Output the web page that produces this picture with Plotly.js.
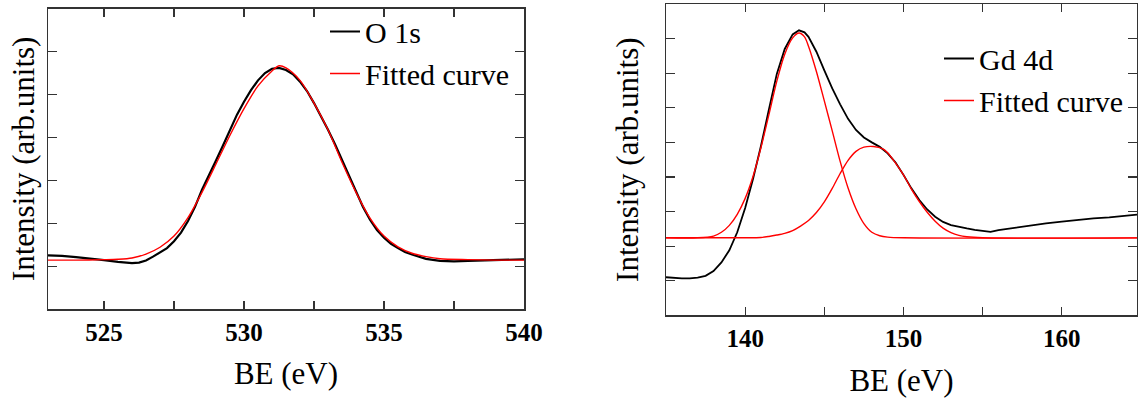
<!DOCTYPE html>
<html>
<head>
<meta charset="utf-8">
<script src="https://cdn.plot.ly/plotly-3.0.1.min.js"></script>
<style>html,body{margin:0;padding:0;background:#fff;}#chart{width:1138px;height:402px;}</style>
</head>
<body>
<div id="chart"></div>
<script>
// ---- O 1s panel ----
const o1sBE = [523.0,523.5,524.0,524.5,525.0,525.5,526.0,526.25,526.5,526.75,527.0,527.25,527.5,527.75,528.0,528.25,528.5,528.75,529.0,529.25,529.5,529.75,530.0,530.25,530.5,530.75,531.0,531.25,531.5,531.75,532.0,532.25,532.5,532.75,533.0,533.25,533.5,533.75,534.0,534.25,534.5,534.75,535.0,535.25,535.5,535.75,536.0,536.5,537.0,537.5,538.0,538.5,539.0,539.5,540.0];
const o1sIntensity = [1.25,1.24,1.21,1.18,1.14,1.10,1.07,1.08,1.13,1.22,1.32,1.42,1.58,1.78,2.05,2.38,2.78,3.14,3.46,3.81,4.18,4.53,4.83,5.10,5.33,5.50,5.60,5.62,5.57,5.47,5.30,5.08,4.80,4.50,4.18,3.84,3.47,3.10,2.72,2.38,2.08,1.84,1.66,1.52,1.42,1.33,1.27,1.17,1.12,1.11,1.12,1.13,1.15,1.16,1.16];
const o1sFitBE = [523.0,524.0,525.0,525.5,526.0,526.5,527.0,527.5,528.0,528.5,529.0,529.5,530.0,530.5,531.0,531.25,531.5,532.0,532.5,533.0,533.5,534.0,534.5,535.0,535.5,536.0,536.5,537.0,538.0,539.0,540.0];
const o1sFit = [1.14,1.14,1.15,1.16,1.19,1.28,1.44,1.70,2.13,2.72,3.38,4.05,4.67,5.20,5.55,5.67,5.62,5.33,4.80,4.18,3.42,2.72,2.12,1.70,1.45,1.30,1.22,1.17,1.15,1.14,1.14];

// ---- Gd 4d panel ----
const gdBE = [135.0,135.5,136.0,136.5,137.0,137.5,138.0,138.5,139.0,139.5,140.0,140.5,141.0,141.5,142.0,142.5,143.0,143.4,143.75,144.0,144.5,145.0,145.5,146.0,146.5,147.0,147.5,148.0,148.5,149.0,149.5,150.0,150.5,151.0,151.5,152.0,152.5,153.0,153.5,154.0,154.5,155.0,155.5,156.0,157.0,158.0,159.0,160.0,161.0,162.0,163.0,164.0,164.75];
const gdIntensity = [1.10,1.08,1.07,1.07,1.09,1.14,1.28,1.53,1.88,2.40,3.10,3.95,4.90,5.95,6.98,7.70,8.12,8.24,8.18,8.05,7.62,7.08,6.56,6.10,5.68,5.36,5.14,5.00,4.87,4.68,4.42,4.06,3.67,3.33,3.06,2.85,2.70,2.61,2.55,2.51,2.47,2.43,2.41,2.46,2.53,2.60,2.66,2.71,2.76,2.80,2.83,2.87,2.91];
const gdFit1BE = [135.0,137.0,138.0,138.5,139.0,139.5,140.0,140.5,141.0,141.5,142.0,142.5,143.0,143.4,143.75,144.0,144.5,145.0,145.5,146.0,146.5,147.0,147.5,148.0,148.5,149.0,150.0,165.0];
const gdFit1 = [2.24,2.24,2.29,2.40,2.60,2.92,3.38,4.02,4.85,5.80,6.77,7.55,8.02,8.16,8.05,7.78,7.05,6.20,5.33,4.45,3.68,3.08,2.65,2.40,2.30,2.26,2.24,2.24];
const gdFit2BE = [135.0,140.0,141.0,141.5,142.0,142.5,143.0,143.5,144.0,144.5,145.0,145.5,146.0,146.5,147.0,147.5,148.1,148.7,149.0,149.5,150.0,150.5,151.0,151.5,152.0,152.5,153.0,153.5,154.0,155.0,165.0];
const gdFit2 = [2.24,2.24,2.25,2.28,2.32,2.37,2.45,2.58,2.74,2.97,3.28,3.67,4.10,4.48,4.74,4.86,4.88,4.81,4.70,4.40,4.06,3.65,3.29,2.98,2.72,2.52,2.39,2.31,2.27,2.24,2.24];

const xTitle = 'BE (eV)';
const yTitle = 'Intensity (arb.units)';
const names = {o1s: 'O 1s', gd: 'Gd 4d', fit: 'Fitted curve'};

const SERIF = '"Liberation Serif", "Times New Roman", Times, serif';
const W = 1138, H = 402;

const traces = [
  {x: o1sBE, y: o1sIntensity, type: 'scatter', mode: 'lines', name: names.o1s,
   line: {color: '#000', width: 2.2}, xaxis: 'x', yaxis: 'y', legend: 'legend'},
  {x: o1sFitBE, y: o1sFit, type: 'scatter', mode: 'lines', name: names.fit,
   line: {color: '#ff0000', width: 1.4, shape: 'spline', smoothing: 0.8}, xaxis: 'x', yaxis: 'y', legend: 'legend'},
  {x: gdBE, y: gdIntensity, type: 'scatter', mode: 'lines', name: names.gd,
   line: {color: '#000', width: 1.8}, xaxis: 'x2', yaxis: 'y2', legend: 'legend2'},
  {x: gdFit1BE, y: gdFit1, type: 'scatter', mode: 'lines', name: names.fit,
   line: {color: '#ff0000', width: 1.4, shape: 'spline', smoothing: 0.8}, xaxis: 'x2', yaxis: 'y2', legend: 'legend2'},
  {x: gdFit2BE, y: gdFit2, type: 'scatter', mode: 'lines', name: names.fit, showlegend: false,
   line: {color: '#ff0000', width: 1.4, shape: 'spline', smoothing: 0.8}, xaxis: 'x2', yaxis: 'y2', legend: 'legend2'}
];

function xAxis(anchor, domain, range, tick0, dtick, minorDtick) {
  return {
    anchor: anchor, domain: domain, range: range, tick0: tick0, dtick: dtick,
    ticks: 'inside', ticklen: 8, tickwidth: 1.2, tickcolor: '#333',
    minor: {dtick: minorDtick, tick0: tick0, ticks: 'inside', ticklen: 8, tickwidth: 1.2, tickcolor: '#333', showgrid: false},
    showline: true, linecolor: '#333', linewidth: 1.5, mirror: 'ticks',
    showgrid: false, zeroline: false, automargin: false,
    tickfont: {family: SERIF, size: 25, color: '#000', weight: 'bold'},
    ticklabelstandoff: 0,
    title: {text: xTitle, font: {family: SERIF, size: 31, color: '#000'}, standoff: 18}
  };
}
function yAxis(anchor, domain, range, standoff) {
  return {
    anchor: anchor, domain: domain, range: range, tick0: 0, dtick: 1,
    ticks: 'inside', ticklen: 9, tickwidth: 1.2, tickcolor: '#333',
    showticklabels: false,
    showline: true, linecolor: '#333', linewidth: 1.5, mirror: 'ticks',
    showgrid: false, zeroline: false, automargin: false,
    title: {text: yTitle, font: {family: SERIF, size: 31, color: '#000'}, standoff: standoff}
  };
}

const layout = {
  width: W, height: H,
  margin: {l: 0, r: 0, t: 0, b: 0},
  paper_bgcolor: '#fff', plot_bgcolor: 'rgba(0,0,0,0)',
  showlegend: true,
  font: {family: SERIF, color: '#000'},
  xaxis: xAxis('y', [48/W, 524/W], [523, 540], 525, 5, 2.5),
  yaxis: yAxis('x', [1 - 309/H, 1 - 8.7/H], [0, 7], 2),
  xaxis2: xAxis('y2', [666/W, 1137/W], [135, 164.75], 140, 10, 5),
  yaxis2: yAxis('x2', [1 - 315.3/H, 1 - 4/H], [0, 9], 16),
  legend: {x: 325/W, y: 1 - 5.5/H, xanchor: 'left', yanchor: 'top', bgcolor: 'rgba(0,0,0,0)',
           borderwidth: 0, font: {family: SERIF, size: 30, color: '#000'}, tracegroupgap: 0},
  legend2: {x: 939/W, y: 1 - 32.5/H, xanchor: 'left', yanchor: 'top', bgcolor: 'rgba(0,0,0,0)',
            borderwidth: 0, font: {family: SERIF, size: 30, color: '#000'}, tracegroupgap: 0}
};

Plotly.newPlot('chart', traces, layout, {displayModeBar: false, staticPlot: true});
</script>
</body>
</html>
